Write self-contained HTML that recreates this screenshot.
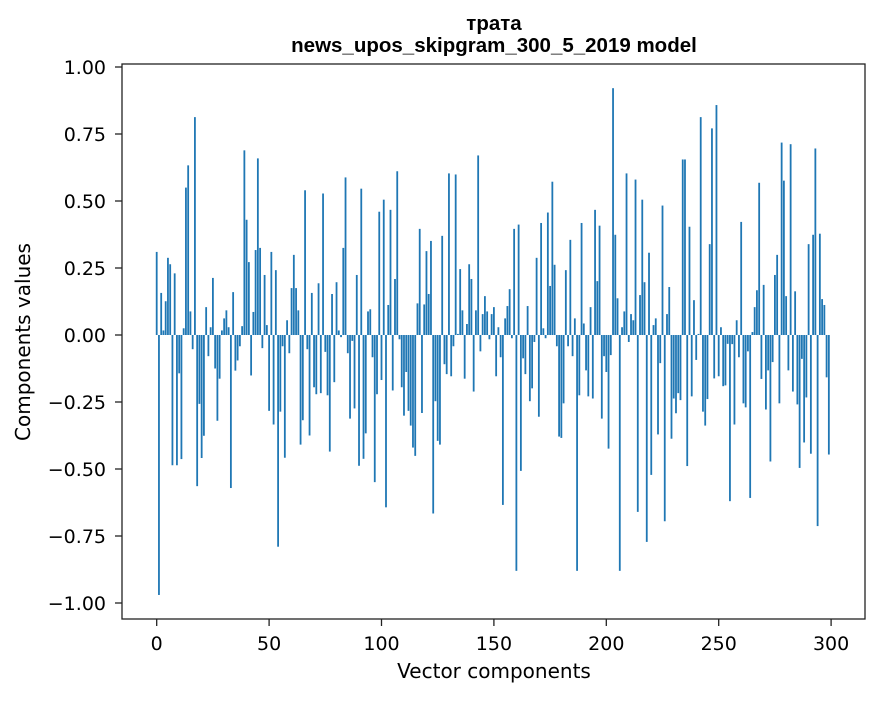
<!DOCTYPE html>
<html><head><meta charset="utf-8"><style>
body{margin:0;background:#fff;}
svg text{font-family:"DejaVu Sans","Liberation Sans",sans-serif;fill:#000;}
</style></head><body>
<svg id="chart" width="880" height="696" xmlns="http://www.w3.org/2000/svg">
<rect width="880" height="696" fill="#fff"/>
<text x="494" y="30" text-anchor="middle" font-size="20.5" font-weight="bold" style="font-family:'Liberation Sans',sans-serif">трата</text>
<text x="494" y="52" text-anchor="middle" font-size="20.5" font-weight="bold" style="font-family:'Liberation Sans',sans-serif">news_upos_skipgram_300_5_2019 model</text>
<g id="bars"></g>
<g id="xticks"></g>
<g id="yticks"></g>
<rect x="122" y="64" width="743" height="555" fill="none" stroke="#222" stroke-width="1.3"/>
<text x="494" y="678" text-anchor="middle" font-size="20">Vector components</text>
<text transform="translate(30,342) rotate(-90)" text-anchor="middle" font-size="20">Components values</text>
</svg>
<script>
const values = [0.31,-0.97,0.157,0.017,0.126,0.288,0.264,-0.486,0.23,-0.486,
-0.143,-0.463,0.025,0.55,0.633,0.088,-0.053,0.813,-0.564,-0.257,
-0.459,-0.376,0.104,-0.079,0.029,0.213,-0.125,-0.32,-0.163,0.017,
0.062,0.092,0.029,-0.571,0.16,-0.133,-0.095,-0.042,0.033,0.689,
0.43,0.272,-0.151,0.086,0.317,0.659,0.325,-0.049,0.224,0.037,
-0.283,0.31,-0.334,0.242,-0.79,-0.286,-0.042,-0.458,0.055,-0.068,
0.175,0.299,0.175,0.092,-0.409,-0.318,0.54,-0.053,-0.375,0.157,
-0.195,-0.221,0.193,-0.217,0.528,-0.063,-0.225,-0.435,0.153,-0.176,
0.197,0.017,-0.008,0.325,0.588,-0.068,-0.312,-0.022,-0.274,0.224,
-0.488,0.546,-0.462,-0.367,0.088,0.096,-0.083,-0.549,-0.221,0.46,
-0.168,0.505,-0.643,0.112,0.467,-0.207,0.209,0.611,-0.016,-0.195,
-0.301,-0.138,-0.283,-0.338,-0.42,-0.451,0.118,0.396,-0.291,0.114,
0.313,0.153,0.351,-0.666,-0.247,-0.395,-0.409,0.37,-0.109,-0.146,
0.603,-0.154,-0.042,0.599,0.004,0.246,0.092,-0.163,0.041,0.264,
0.209,-0.211,0.092,0.67,-0.061,0.078,0.145,0.088,-0.016,0.078,
0.104,-0.154,0.029,-0.083,-0.634,0.062,0.108,0.171,-0.012,0.396,
-0.88,0.412,-0.507,-0.087,-0.146,0.108,-0.247,-0.199,-0.026,0.288,
-0.305,0.418,0.025,-0.012,0.457,0.183,0.572,0.262,-0.042,-0.379,
-0.384,-0.255,0.242,-0.042,0.355,-0.079,0.062,-0.88,-0.225,0.418,
0.043,-0.132,-0.229,0.104,-0.237,0.467,0.201,0.408,-0.312,-0.079,
-0.138,-0.424,-0.075,0.921,0.374,0.137,-0.88,0.029,0.088,0.603,
-0.026,0.078,0.055,0.58,-0.66,0.149,0.505,0.197,-0.772,0.307,
-0.522,0.037,0.062,-0.371,-0.105,0.483,-0.695,0.078,0.179,-0.387,
-0.237,-0.292,-0.217,-0.243,0.655,0.655,-0.489,0.404,-0.229,0.13,
-0.093,0.004,0.813,-0.286,-0.338,-0.239,0.339,0.771,-0.162,0.858,
-0.154,0.029,-0.191,-0.188,-0.033,-0.62,-0.034,-0.334,0.055,-0.083,
0.422,-0.255,-0.27,-0.061,-0.608,0.011,0.104,0.167,0.568,-0.164,
0.187,-0.278,-0.132,-0.472,-0.101,0.224,0.299,-0.255,0.718,0.576,
0.145,-0.132,0.712,-0.211,0.163,-0.259,-0.496,-0.089,-0.401,-0.233,
0.339,-0.443,0.374,0.696,-0.713,0.378,0.134,0.112,-0.158,-0.446];
const xTickValues = [0,50,100,150,200,250,300];
const yTickValues = [1.0,0.75,0.5,0.25,0.0,-0.25,-0.5,-0.75,-1.0];
const yTickLabels = ["1.00","0.75","0.50","0.25","0.00","\u22120.25","\u22120.50","\u22120.75","\u22121.00"];

const NS="http://www.w3.org/2000/svg";
function xs(v){return 156.7+v*2.248;}
function ys(v){return 335-v*268;}
const bars=document.getElementById('bars');
values.forEach((v,i)=>{
  const r=document.createElementNS(NS,'rect');
  
  
  const w=0.8*2.248;
  r.setAttribute('x',xs(i)-w/2);
  r.setAttribute('width',w);
  r.setAttribute('y',Math.min(ys(0),ys(v)));
  r.setAttribute('height',Math.abs(ys(v)-ys(0)));
  r.setAttribute('fill','#1f77b4');
  bars.appendChild(r);
});
const xg=document.getElementById('xticks');
xTickValues.forEach(t=>{
  const l=document.createElementNS(NS,'line');
  
  
  l.setAttribute('x1',xs(t));l.setAttribute('x2',xs(t));
  l.setAttribute('y1',619);l.setAttribute('y2',626);
  l.setAttribute('stroke','#222');l.setAttribute('stroke-width','1.3');
  xg.appendChild(l);
  const tx=document.createElementNS(NS,'text');
  
  
  tx.setAttribute('x',xs(t));tx.setAttribute('y',650);
  tx.setAttribute('text-anchor','middle');tx.setAttribute('font-size','19');
  tx.textContent=String(t);
  xg.appendChild(tx);
});
const yg=document.getElementById('yticks');
yTickValues.forEach((t,k)=>{
  const l=document.createElementNS(NS,'line');
  
  
  l.setAttribute('x1',115);l.setAttribute('x2',122);
  l.setAttribute('y1',ys(t));l.setAttribute('y2',ys(t));
  l.setAttribute('stroke','#222');l.setAttribute('stroke-width','1.3');
  yg.appendChild(l);
  const tx=document.createElementNS(NS,'text');
  
  
  tx.setAttribute('x',106);tx.setAttribute('y',ys(t)+7);
  tx.setAttribute('text-anchor','end');tx.setAttribute('font-size','19');
  tx.textContent=yTickLabels[k];
  yg.appendChild(tx);
});
</script>
</body></html>
